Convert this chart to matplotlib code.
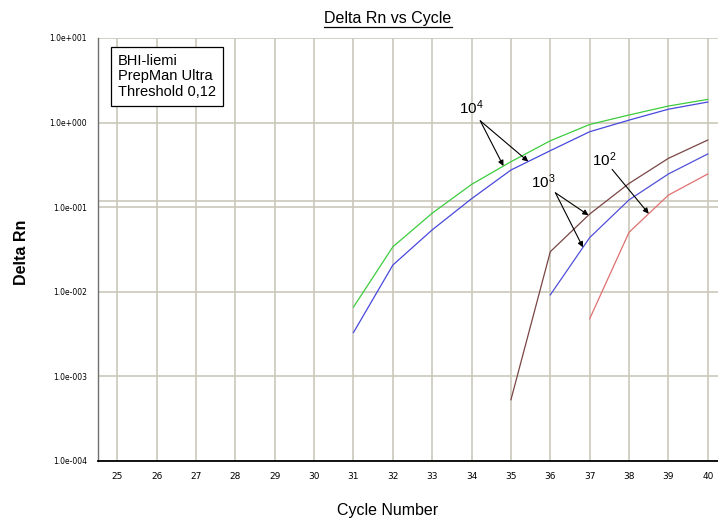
import numpy as np
import matplotlib
matplotlib.use("Agg")
import matplotlib.pyplot as plt
from matplotlib.lines import Line2D

plt.rcParams['font.family'] = ['Liberation Sans', 'DejaVu Sans']

# amplification curves (Delta Rn per cycle)
cycles_10e4_a = [31, 32, 33, 34, 35, 36, 37, 38, 39, 40]
rn_10e4_a = [0.0066, 0.034, 0.085, 0.186, 0.345, 0.61, 0.95, 1.23, 1.57, 1.88]
cycles_10e4_b = [31, 32, 33, 34, 35, 36, 37, 38, 39, 40]
rn_10e4_b = [0.0033, 0.0207, 0.054, 0.126, 0.275, 0.466, 0.78, 1.07, 1.44, 1.75]
cycles_10e3_a = [35, 36, 37, 38, 39, 40]
rn_10e3_a = [0.00053, 0.0298, 0.083, 0.191, 0.378, 0.622]
cycles_10e3_b = [36, 37, 38, 39, 40]
rn_10e3_b = [0.0092, 0.0437, 0.122, 0.247, 0.426]
cycles_10e2 = [37, 38, 39, 40]
rn_10e2 = [0.0048, 0.0505, 0.139, 0.247]

threshold = 0.12
info_lines = ["BHI-liemi", "PrepMan Ultra", "Threshold 0,12"]
x_ticks = list(range(25, 41))
y_ticks = [1e-4, 1e-3, 1e-2, 1e-1, 1e0, 1e1]
y_tick_labels = ["1.0e-004", "1.0e-003", "1.0e-002", "1.0e-001", "1.0e+000", "1.0e+001"]

grid_color = '#cbc7bb'


def on_curve(xs, ys, x):
    # point on a log-scale curve at cycle x
    return 10 ** np.interp(x, xs, np.log10(ys))


fig = plt.figure(figsize=(7.18, 5.2), dpi=100)
ax = fig.add_axes([98 / 718, 1 - 461 / 520, 1 - 98 / 718, (461 - 38) / 520])

ax.set_yscale('log')
ax.set_xlim(24.51, 40.26)
ax.set_ylim(1e-4, 1e1)

for x in x_ticks:
    ax.axvline(x, color=grid_color, lw=1.2, zorder=1)
for y in y_ticks:
    ax.axhline(y, color=grid_color, lw=1.2, zorder=1)
ax.axhline(threshold, color=grid_color, lw=1.2, zorder=1)

ax.plot(cycles_10e4_a, rn_10e4_a, color='#3ccc3c', lw=0.9, zorder=3)
ax.plot(cycles_10e4_b, rn_10e4_b, color='#4848dc', lw=0.9, zorder=3)
ax.plot(cycles_10e3_a, rn_10e3_a, color='#7a4545', lw=0.9, zorder=3)
ax.plot(cycles_10e3_b, rn_10e3_b, color='#5050d8', lw=0.9, zorder=3)
ax.plot(cycles_10e2, rn_10e2, color='#e07070', lw=0.9, zorder=3)

ax.set_xticks(x_ticks)
ax.set_xticklabels([str(x) for x in x_ticks], fontsize=6.5, family='DejaVu Sans')
ax.set_yticks(y_ticks)
ax.set_yticklabels(y_tick_labels, fontsize=5.5, family='DejaVu Sans')
ax.yaxis.set_minor_locator(matplotlib.ticker.NullLocator())
ax.tick_params(axis='x', length=0, pad=8)
ax.tick_params(axis='y', length=0, pad=8)

ax.spines['top'].set_visible(False)
ax.spines['right'].set_visible(False)
ax.spines['left'].set_color('#707070')
ax.spines['left'].set_linewidth(1.0)
ax.spines['bottom'].set_color('black')
ax.spines['bottom'].set_linewidth(1.3)

# copy number annotations
arrow = dict(arrowstyle='-|>', color='black', lw=0.8, mutation_scale=8, shrinkA=0, shrinkB=0)


def label_curves(text, text_xy, tail_xy, targets):
    ax.text(text_xy[0], text_xy[1], text, fontsize=11, ha='center', va='center', zorder=5)
    for xs, ys, x in targets:
        ax.annotate('', xy=(x, on_curve(xs, ys, x)), xytext=tail_xy,
                    arrowprops=arrow, zorder=5)


label_curves(r'$\mathregular{10^4}$', (34.0, 1.48), (34.22, 1.05),
             [(cycles_10e4_a, rn_10e4_a, 34.81), (cycles_10e4_b, rn_10e4_b, 35.44)])
label_curves(r'$\mathregular{10^3}$', (35.83, 0.20), (36.13, 0.148),
             [(cycles_10e3_a, rn_10e3_a, 36.97), (cycles_10e3_b, rn_10e3_b, 36.83)])
label_curves(r'$\mathregular{10^2}$', (37.36, 0.36), (37.57, 0.28),
             [(cycles_10e2, rn_10e2, 38.50)])

ax.text(118 / 718, 1 - 54 / 520, "\n".join(info_lines), transform=fig.transFigure,
        fontsize=10.5, ha='left', va='top', linespacing=1.12, zorder=6,
        bbox=dict(boxstyle='square,pad=0.5', facecolor='white', edgecolor='black', lw=0.9))

title = fig.text(388 / 718, 1 - 18 / 520, "Delta Rn vs Cycle", fontsize=11.5,
                 ha='center', va='center')
fig.text(388 / 718, 1 - 511 / 520, "Cycle Number", fontsize=11.5, ha='center', va='center')
fig.text(21 / 718, 1 - 252 / 520, "Delta Rn", fontsize=11.5, fontweight='bold',
         rotation=90, ha='center', va='center')

# underline the title
fig.canvas.draw()
bb = title.get_window_extent().transformed(fig.transFigure.inverted())
fig.add_artist(Line2D([bb.x0, bb.x1], [bb.y0 - 0.002, bb.y0 - 0.002],
                      color='black', lw=0.9, transform=fig.transFigure))

fig.savefig('out.png', dpi=100)
